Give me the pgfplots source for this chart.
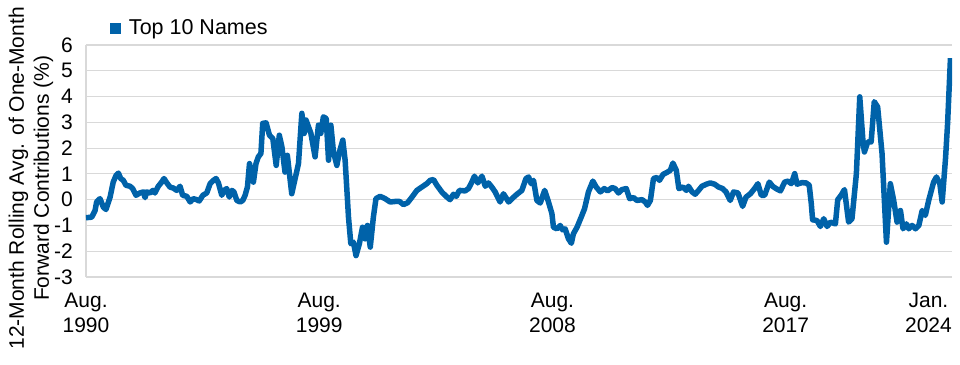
\documentclass[border=0pt]{standalone}
\usepackage{pgfplots}
\pgfplotsset{compat=1.18}
\usepackage{fontspec}
\setmainfont{Liberation Sans}
\definecolor{lineblue}{RGB}{0,98,169}
\definecolor{gridgray}{RGB}{217,217,217}
\begin{document}
\fontsize{20bp}{24bp}\selectfont
\begin{tikzpicture}
\begin{axis}[
 scale only axis, width=866bp, height=232bp,
 xmin=1990.58, xmax=2024.0, ymin=-3, ymax=6,
 ytick={-3,-2,-1,0,1,2,3,4,5,6},
 xtick={1990.58,1999.58,2008.58,2017.58},
 xticklabels={{Aug.\\1990},{Aug.\\1999},{Aug.\\2008},{Aug.\\2017}},
 extra x ticks={2024.0}, extra x tick labels={{Jan.\\2024}},
 extra x tick style={xticklabel style={anchor=north east}},
 axis x line*=bottom, axis y line*=left,
 axis line style={-, gridgray, line width=1.5bp},
 ymajorgrids, grid style={gridgray, line width=1.2bp},
 major tick length=0pt,
 tick label style={font=\fontsize{21bp}{25bp}\selectfont},
 xticklabel style={align=center, anchor=north, inner sep=0pt, yshift=-16bp},
 yticklabel style={anchor=east, inner sep=0pt, xshift=-13bp},
 /pgf/number format/assume math mode=true,
 ylabel={12-Month Rolling Avg. of One-Month\\Forward Contributions (\%)},
 ylabel style={align=center, font=\fontsize{21bp}{25bp}\selectfont, at={(axis description cs:-0.0635,0.425)}, anchor=center},
 legend style={at={(axis description cs:0.0277,1.073)}, anchor=west, draw=none, fill=none, inner sep=0pt, outer sep=0pt, nodes={inner sep=0pt}, font=\fontsize{21.5bp}{24bp}\selectfont},
 legend image code/.code={\fill[draw=none] (0bp,-5.5bp) rectangle (11bp,5.5bp); \path[draw=none,fill=none] (0bp,0bp) rectangle (19bp,0.1bp);},
]
\addplot[lineblue, line width=5.5bp, line join=round] coordinates {
(1990.58,-0.70)(1990.80,-0.68)(1990.93,-0.42)(1990.99,-0.09)(1991.12,0.04)(1991.25,-0.29)(1991.35,-0.38)(1991.51,0.10)(1991.63,0.68)(1991.74,0.94)(1991.83,1.03)(1991.92,0.82)(1992.02,0.75)(1992.12,0.56)(1992.28,0.52)(1992.38,0.43)(1992.51,0.17)(1992.66,0.26)(1992.79,0.30)(1992.86,0.08)(1992.92,0.30)(1993.05,0.26)(1993.16,0.36)(1993.24,0.26)(1993.37,0.52)(1993.50,0.68)(1993.59,0.82)(1993.70,0.65)(1993.82,0.49)(1993.95,0.45)(1994.08,0.36)(1994.21,0.52)(1994.31,0.17)(1994.47,0.13)(1994.60,-0.09)(1994.72,0.04)(1994.85,0.00)(1994.95,-0.05)(1995.09,0.17)(1995.24,0.26)(1995.37,0.62)(1995.50,0.75)(1995.60,0.82)(1995.69,0.65)(1995.82,0.17)(1995.91,0.36)(1996.01,0.43)(1996.11,0.10)(1996.21,0.36)(1996.29,0.30)(1996.40,-0.03)(1996.53,-0.09)(1996.63,-0.03)(1996.72,0.17)(1996.81,0.49)(1996.89,1.40)(1996.98,1.01)(1997.04,0.68)(1997.14,1.40)(1997.23,1.66)(1997.33,1.79)(1997.40,2.96)(1997.53,2.98)(1997.66,2.50)(1997.79,2.37)(1997.92,1.33)(1998.04,2.50)(1998.14,2.05)(1998.26,1.07)(1998.35,1.72)(1998.52,0.23)(1998.78,1.40)(1998.91,3.35)(1999.00,2.57)(1999.07,3.09)(1999.26,2.57)(1999.42,1.66)(1999.55,2.89)(1999.64,2.57)(1999.74,3.21)(1999.85,3.15)(1999.94,1.53)(2000.03,2.89)(2000.13,1.85)(2000.26,1.33)(2000.36,1.85)(2000.49,2.31)(2000.58,1.53)(2000.71,-0.68)(2000.80,-1.71)(2000.90,-1.65)(2001.00,-2.17)(2001.13,-1.71)(2001.25,-1.07)(2001.35,-1.52)(2001.44,-1.00)(2001.55,-1.84)(2001.67,-0.68)(2001.77,0.04)(2001.93,0.13)(2002.12,0.04)(2002.32,-0.09)(2002.51,-0.07)(2002.68,-0.07)(2002.83,-0.19)(2002.99,-0.12)(2003.16,0.10)(2003.35,0.36)(2003.54,0.49)(2003.73,0.62)(2003.86,0.75)(2003.99,0.78)(2004.12,0.56)(2004.31,0.30)(2004.51,0.10)(2004.63,0.00)(2004.76,0.21)(2004.87,0.13)(2004.99,0.36)(2005.21,0.34)(2005.34,0.43)(2005.47,0.68)(2005.57,0.91)(2005.70,0.65)(2005.86,0.91)(2005.99,0.52)(2006.11,0.65)(2006.24,0.49)(2006.37,0.30)(2006.56,-0.09)(2006.69,0.23)(2006.89,-0.09)(2007.02,0.04)(2007.21,0.21)(2007.40,0.36)(2007.56,0.82)(2007.66,0.88)(2007.76,0.62)(2007.85,0.75)(2007.98,-0.03)(2008.11,-0.13)(2008.28,0.36)(2008.41,-0.03)(2008.56,-0.54)(2008.62,-1.07)(2008.75,-1.13)(2008.88,-1.00)(2008.97,-1.17)(2009.07,-1.13)(2009.20,-1.52)(2009.31,-1.69)(2009.39,-1.32)(2009.53,-1.07)(2009.69,-0.68)(2009.82,-0.35)(2009.97,0.30)(2010.14,0.72)(2010.27,0.49)(2010.43,0.30)(2010.58,0.43)(2010.71,0.34)(2010.88,0.47)(2011.00,0.43)(2011.13,0.26)(2011.26,0.39)(2011.43,0.43)(2011.56,0.04)(2011.71,0.08)(2011.84,-0.03)(2012.04,0.00)(2012.16,-0.09)(2012.25,-0.22)(2012.36,-0.03)(2012.48,0.82)(2012.61,0.86)(2012.71,0.75)(2012.85,0.98)(2013.02,1.07)(2013.13,1.14)(2013.23,1.42)(2013.36,1.14)(2013.46,0.43)(2013.62,0.49)(2013.75,0.36)(2013.83,0.52)(2013.97,0.30)(2014.09,0.21)(2014.22,0.36)(2014.35,0.52)(2014.52,0.60)(2014.67,0.65)(2014.84,0.60)(2014.99,0.49)(2015.15,0.43)(2015.28,0.30)(2015.44,-0.03)(2015.57,0.30)(2015.74,0.26)(2015.92,-0.26)(2016.05,0.10)(2016.22,0.23)(2016.38,0.43)(2016.51,0.62)(2016.64,0.17)(2016.77,0.17)(2016.95,0.68)(2017.08,0.52)(2017.21,0.43)(2017.38,0.34)(2017.54,0.68)(2017.67,0.72)(2017.80,0.62)(2017.93,1.01)(2018.02,0.60)(2018.21,0.66)(2018.37,0.65)(2018.49,0.56)(2018.57,-0.16)(2018.62,-0.78)(2018.79,-0.81)(2018.92,-1.04)(2019.05,-0.74)(2019.18,-1.04)(2019.31,-0.87)(2019.50,-0.94)(2019.59,0.00)(2019.72,0.17)(2019.85,0.39)(2020.01,-0.87)(2020.14,-0.74)(2020.31,1.01)(2020.44,3.99)(2020.57,2.18)(2020.62,1.85)(2020.75,2.24)(2020.88,2.24)(2021.00,3.80)(2021.13,3.60)(2021.30,1.79)(2021.47,-1.65)(2021.62,0.62)(2021.75,-0.03)(2021.88,-0.87)(2022.01,-0.42)(2022.11,-1.13)(2022.24,-0.94)(2022.33,-1.13)(2022.46,-1.00)(2022.59,-1.13)(2022.72,-1.00)(2022.85,-0.42)(2022.97,-0.61)(2023.10,-0.03)(2023.29,0.68)(2023.40,0.88)(2023.53,0.62)(2023.62,-0.09)(2023.75,1.60)(2023.83,2.96)(2023.94,5.49)
};
\addlegendentry{Top 10 Names}
\coordinate (O) at (rel axis cs:0,0);
\end{axis}
\pgfresetboundingbox
\path (O) ++(-86bp,-88bp) rectangle ++(960bp,365bp);
\end{tikzpicture}
\end{document}
